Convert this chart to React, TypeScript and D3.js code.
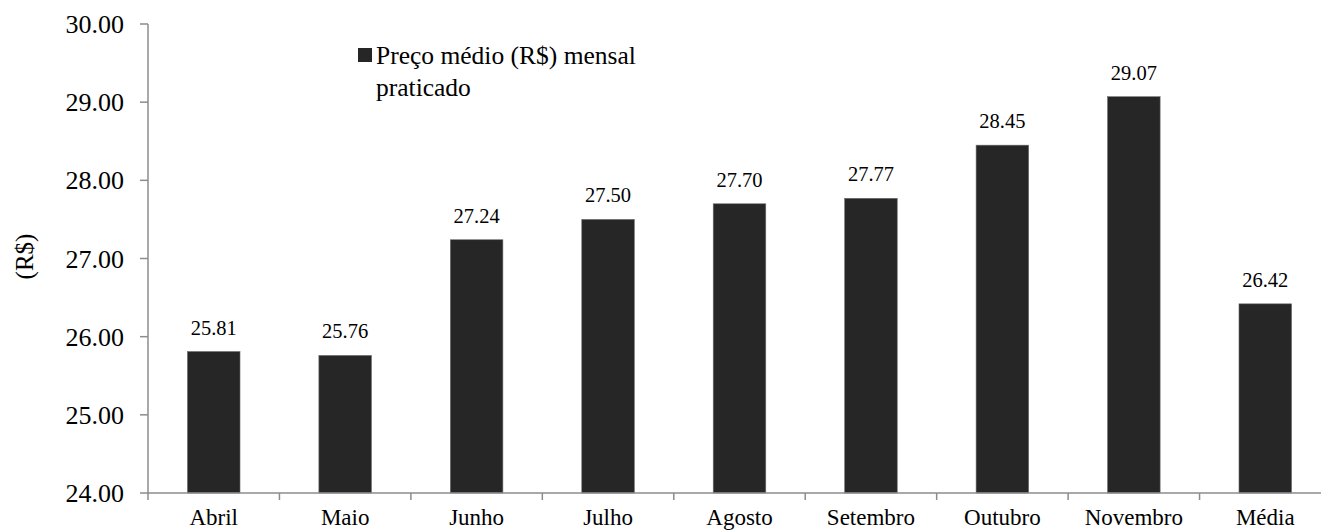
import React from 'react';
import * as d3 from 'd3';

const meses = ['Abril', 'Maio', 'Junho', 'Julho', 'Agosto', 'Setembro', 'Outubro', 'Novembro', 'Média'];
const precos = [25.81, 25.76, 27.24, 27.5, 27.7, 27.77, 28.45, 29.07, 26.42];
const yTicks = [24, 25, 26, 27, 28, 29, 30];
const legendLines = ['Preço médio (R$) mensal', 'praticado'];

const W = 1321;
const H = 531;
const margin = { top: 24, left: 148, bottom: 493, right: 1331 };
const font = "'Liberation Serif', 'DejaVu Serif', serif";
const axisColor = '#8c8c8c';

const App: React.FC = () => {
  const x = d3.scaleBand<string>()
    .domain(meses)
    .range([margin.left, margin.right])
    .paddingInner(0.6)
    .paddingOuter(0.3);

  const y = d3.scaleLinear()
    .domain([24, 30])
    .range([margin.bottom, margin.top]);

  // category boundaries for the tick marks on the x axis
  const bounds = d3.range(meses.length + 1).map(i => margin.left + i * (margin.right - margin.left) / meses.length);

  return (
    <svg width={W} height={H} style={{ position: 'absolute', left: 0, top: 0, background: '#fff', fontFamily: font }}>
      {/* bars */}
      {meses.map((m, i) => (
        <g key={m}>
          <rect
            x={x(m)}
            y={y(precos[i])}
            width={x.bandwidth()}
            height={y(24) - y(precos[i])}
            fill="#262626"
            stroke="#6e6e6e"
            strokeWidth={0.6}
          />
          <text
            x={(x(m) || 0) + x.bandwidth() / 2}
            y={y(precos[i]) - 17}
            textAnchor="middle"
            fontSize={20.5}
            fill="#000"
          >
            {precos[i].toFixed(2)}
          </text>
          <text
            x={(x(m) || 0) + x.bandwidth() / 2}
            y={margin.bottom + 32}
            textAnchor="middle"
            fontSize={23}
            fill="#000"
          >
            {m}
          </text>
        </g>
      ))}

      {/* y axis */}
      <line x1={margin.left} x2={margin.left} y1={y(30)} y2={y(24)} stroke={axisColor} strokeWidth={1.5} />
      {yTicks.map(t => (
        <g key={t}>
          <line x1={margin.left - 8} x2={margin.left} y1={y(t)} y2={y(t)} stroke={axisColor} strokeWidth={1.5} />
          <text x={margin.left - 24} y={y(t)} dy="0.35em" textAnchor="end" fontSize={26} fill="#000">
            {t.toFixed(2)}
          </text>
        </g>
      ))}

      {/* x axis */}
      <line x1={margin.left} x2={margin.right} y1={y(24)} y2={y(24)} stroke={axisColor} strokeWidth={1.5} />
      {bounds.map((b, i) => (
        <line key={i} x1={b} x2={b} y1={y(24)} y2={y(24) + 7} stroke={axisColor} strokeWidth={1.5} />
      ))}

      {/* axis title */}
      <text transform={`translate(24,${(y(24) + y(30)) / 2 - 2}) rotate(-90)`} textAnchor="middle" dy="0.35em" fontSize={25} fill="#000">
        (R$)
      </text>

      {/* legend */}
      <rect x={358} y={48} width={14} height={14} fill="#262626" />
      {legendLines.map((l, i) => (
        <text key={l} x={376} y={64 + i * 32} fontSize={25.5} fill="#000">{l}</text>
      ))}
    </svg>
  );
};

export default App;
